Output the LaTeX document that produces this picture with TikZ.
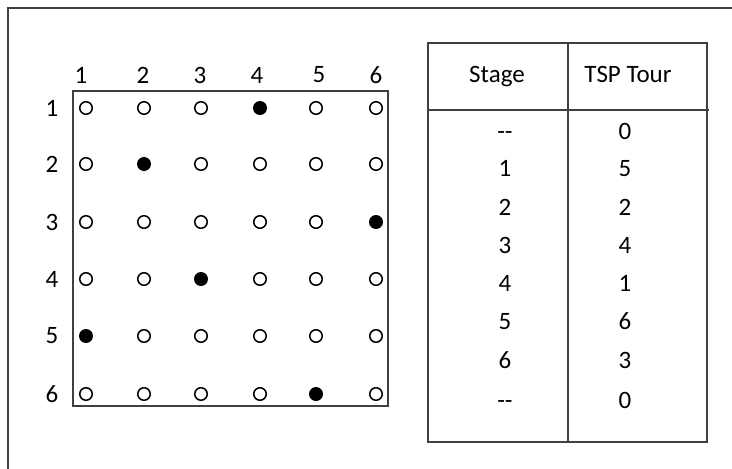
\documentclass[tikz,border=0pt]{standalone}
\usepackage{fontspec}
\setmainfont{Carlito}
\usepackage{tikz}

\begin{document}
\begin{tikzpicture}[x=1pt,y=-1pt]
\tikzset{
  lbl/.style={inner sep=0pt,font=\fontsize{25}{28}\selectfont},
  cell/.style={inner sep=0pt,text height=16pt,text depth=0pt,font=\fontsize{25}{28}\selectfont},
  open/.style={circle,draw=black,line width=1.5pt,fill=white,minimum size=12.5pt,inner sep=0pt},
  full/.style={circle,fill=black,minimum size=14pt,inner sep=0pt},
  frame/.style={draw=black!75,line width=1.5pt}
}
\useasboundingbox (0,0) rectangle (732,469);
% outer frame (only top and left visible)
\coordinate (fbl) at (8,469);
\coordinate (ftl) at (8,8);
\coordinate (ftr) at (732,8);
\draw [frame] (fbl) -- (ftl) -- (ftr);
% board
\coordinate (bnw) at (73,91);
\coordinate (bse) at (388,406);
\draw [frame] (bnw) rectangle (bse);
\foreach \i/\x in {1/81,2/143,3/200,4/257,5/319,6/376}
  \node [lbl] (col\i) at (\x,75) {\i};
\foreach \j/\y in {1/108,2/164,3/222,4/279,5/336,6/394}
  \node [lbl] (row\j) at (52,\y) {\j};
% circles; filled one per row
\foreach \j/\y/\f in {1/108/4,2/164/2,3/222/6,4/279/3,5/336/1,6/394/5}
  \foreach \i/\x in {1/86,2/144,3/201,4/260,5/316,6/376}{
    \ifnum\i=\f
      \node [full] (d\j\i) at (\x,\y) {};
    \else
      \node [open] (d\j\i) at (\x,\y) {};
    \fi
  }
% table
\coordinate (tnw) at (428,43);
\coordinate (tse) at (707,442);
\coordinate (tmt) at (568,43);
\coordinate (tmb) at (568,442);
\coordinate (thl) at (428,110);
\coordinate (thr) at (709,110);
\draw [frame] (tnw) rectangle (tse);
\draw [frame] (tmt) -- (tmb);
\draw [frame] (thl) -- (thr);
\node [cell] (hstage) at (497,74) {Stage};
\node [cell] (htour) at (628,74) {TSP Tour};
\foreach \k/\s/\t/\y in {0/-{}-/0/131,1/1/5/168,2/2/2/207,3/3/4/245,4/4/1/283,5/5/6/321,6/6/3/360,7/-{}-/0/400}{
  \node [cell] (s\k) at (505,\y) {\s};
  \node [cell] (t\k) at (625,\y) {\t};
}
\end{tikzpicture}
\end{document}
